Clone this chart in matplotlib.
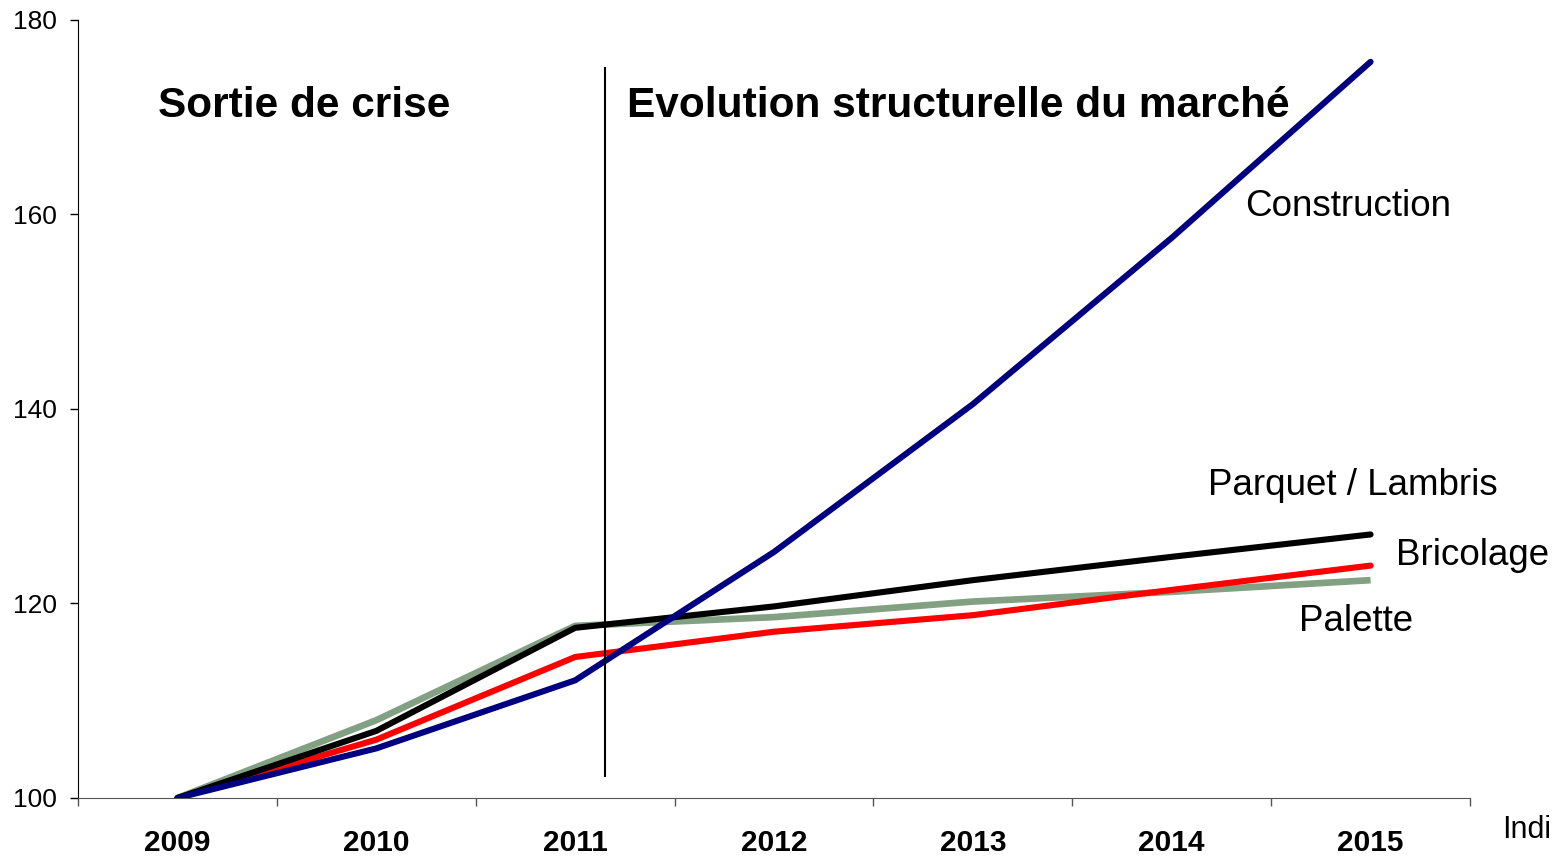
import matplotlib
matplotlib.use("Agg")
import matplotlib.pyplot as plt

years = ["2009", "2010", "2011", "2012", "2013", "2014", "2015"]
construction = [100, 105.1, 112.1, 125.3, 140.5, 157.6, 175.7]
parquet = [100, 106.9, 117.5, 119.7, 122.4, 124.8, 127.1]
bricolage = [100, 106.0, 114.5, 117.1, 118.8, 121.4, 123.9]
palette = [100, 108.0, 117.7, 118.6, 120.2, 121.2, 122.4]

plt.rcParams['font.family'] = ['Liberation Sans', 'DejaVu Sans']

fig = plt.figure(figsize=(15.53, 8.56), dpi=100)
ax = fig.add_axes([78 / 1553, 1 - 798 / 856, (1470 - 78) / 1553, (798 - 20) / 856])

x = list(range(len(years)))
ax.plot(x, palette, color='#82a082', lw=4.8, solid_capstyle='butt', zorder=2)
ax.plot(x, bricolage, color='#ff0000', lw=4.4, solid_capstyle='round', zorder=3)
ax.plot(x, parquet, color='black', lw=4.4, solid_capstyle='round', zorder=4)
ax.plot(x, construction, color='#000080', lw=4.4, solid_capstyle='round', zorder=5)

# separation line between the two periods
ax.plot([2.15, 2.15], [102.3, 175.1], color='black', lw=1.5, zorder=6)

ax.set_xlim(-0.5, 6.5)
ax.set_ylim(100, 180)
ax.set_yticks([100, 120, 140, 160, 180])
ax.tick_params(axis='y', labelsize=19, length=6, width=1, direction='out', pad=9)
ax.set_xticks(x)
ax.set_xticklabels(years, fontsize=21.5, fontweight='bold')
ax.tick_params(axis='x', length=0, pad=22)
ax.set_xticks([i - 0.5 for i in range(8)], minor=True)
ax.tick_params(axis='x', which='minor', length=6, width=1, direction='out', color='#555555')
for s in ['top', 'right']:
    ax.spines[s].set_visible(False)
ax.spines['bottom'].set_color('#555555')

ax.text(-0.1, 171.2, "Sortie de crise", fontsize=30.5, fontweight='bold', va='center')
ax.text(2.26, 171.2, "Evolution structurelle du marché", fontsize=30.5, fontweight='bold', va='center')

ax.text(5.37, 160.8, "Construction", fontsize=26.5, va='center')
ax.text(5.18, 132.1, "Parquet / Lambris", fontsize=26.5, va='center')
ax.text(6.13, 124.9, "Bricolage", fontsize=26.5, va='center')
ax.text(5.64, 118.2, "Palette", fontsize=26.5, va='center')

fig.text(1502 / 1553, 1 - 830 / 856, "Indi", fontsize=22, va='center')

fig.savefig("out.png", dpi=100)
